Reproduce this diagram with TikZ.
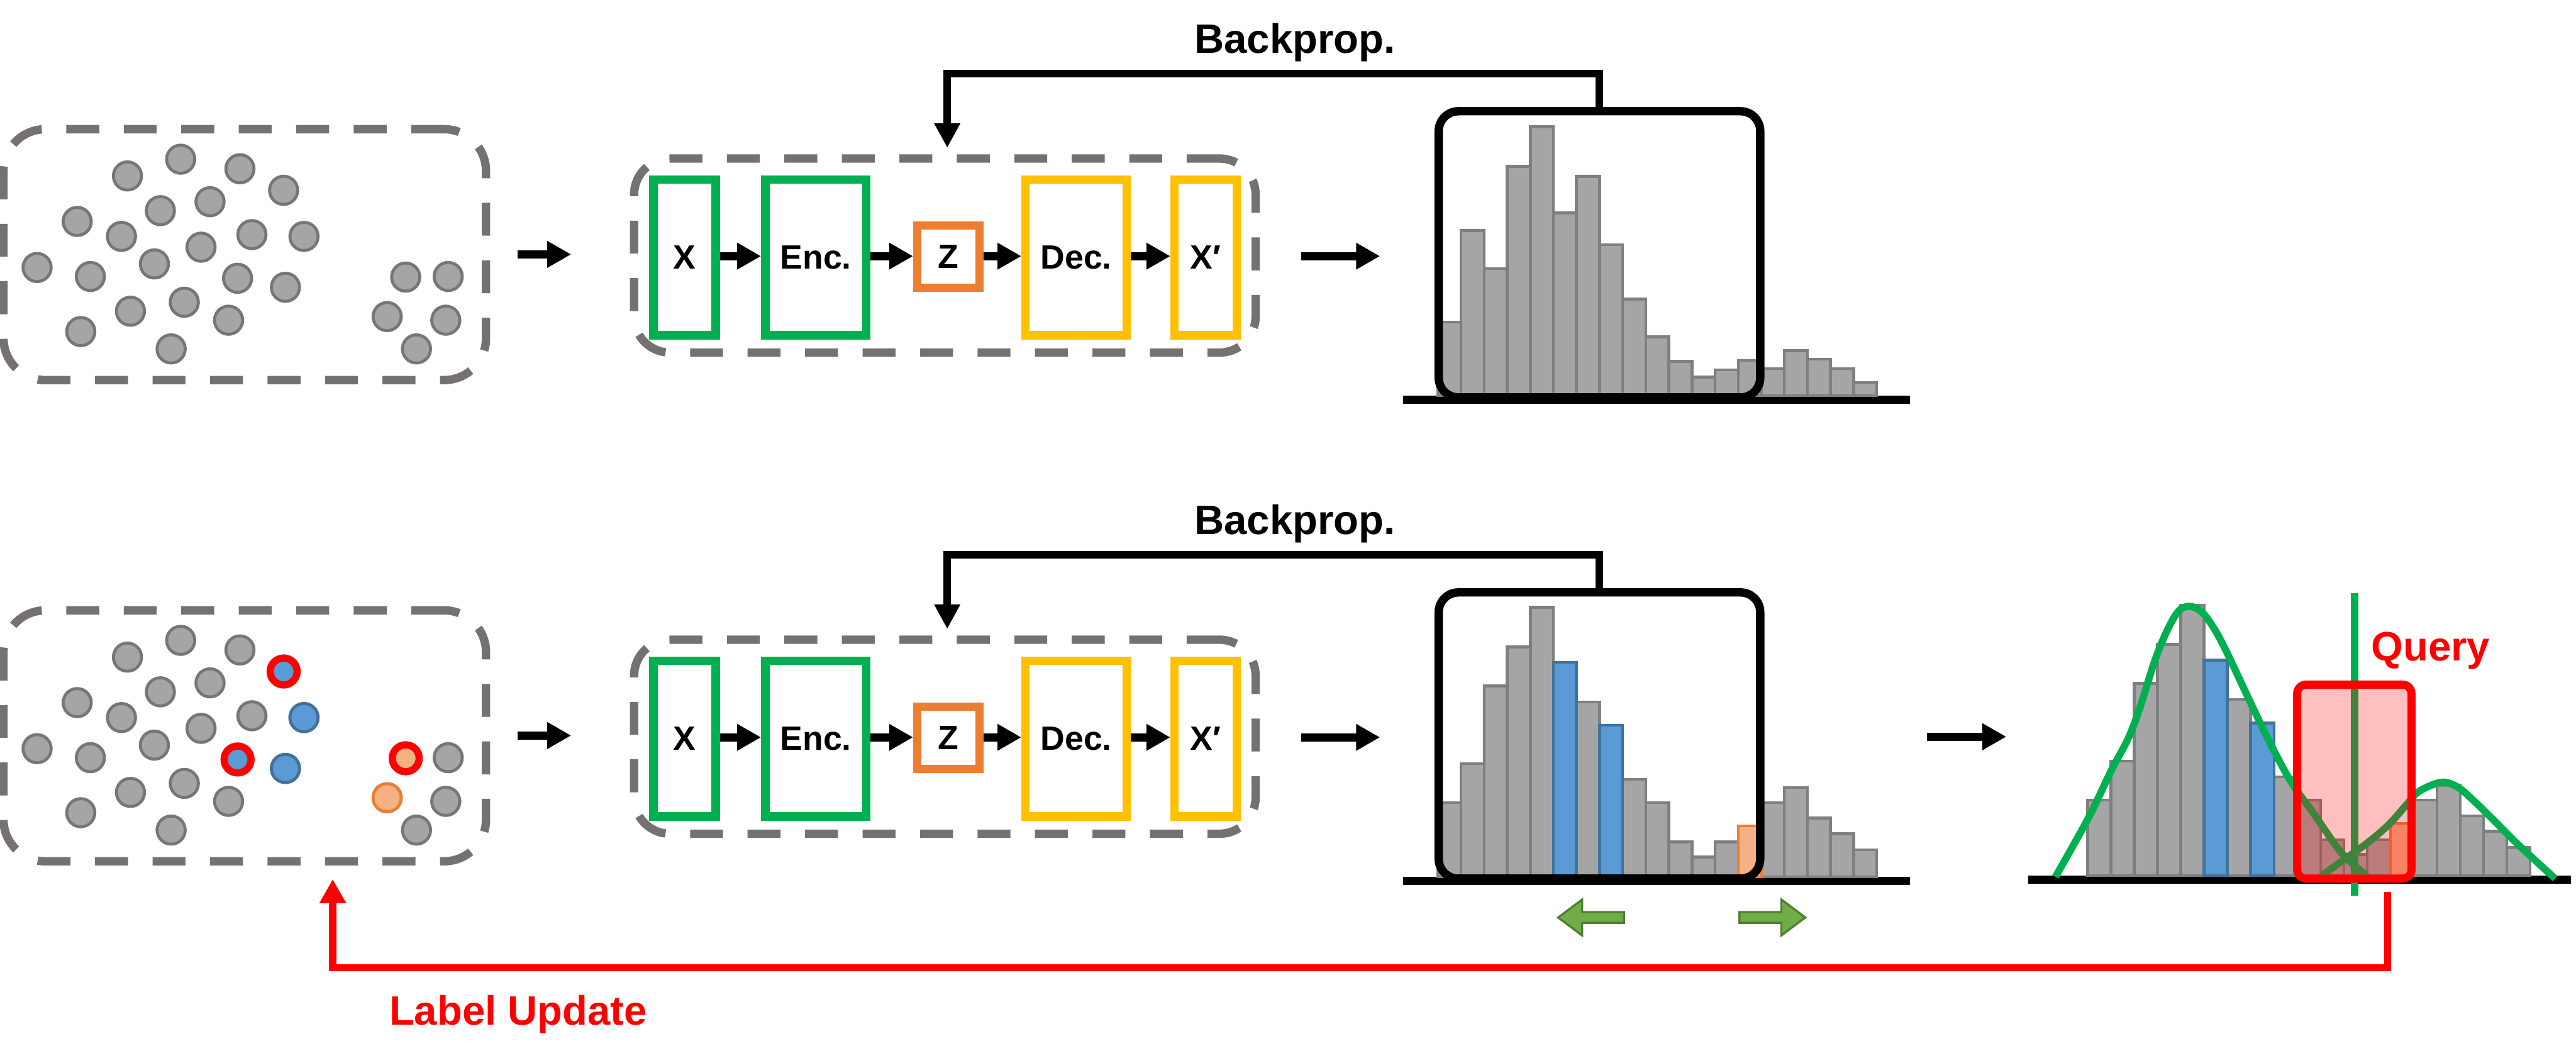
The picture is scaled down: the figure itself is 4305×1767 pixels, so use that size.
\documentclass[tikz,border=0pt]{standalone}
\usepackage{fontspec}
\setmainfont{Liberation Sans}
\usetikzlibrary{arrows.meta}
\definecolor{dashgrey}{HTML}{767171}
\definecolor{dotfill}{HTML}{A5A5A5}
\definecolor{dotline}{HTML}{767676}
\definecolor{barline}{HTML}{7F7F7F}
\definecolor{aegreen}{HTML}{00B050}
\definecolor{aeorange}{HTML}{ED7D31}
\definecolor{aeyellow}{HTML}{FFC000}
\definecolor{bluefill}{HTML}{5B9BD5}
\definecolor{blueline}{HTML}{41719C}
\definecolor{orfill}{HTML}{F4B183}
\definecolor{garrowfill}{HTML}{70AD47}
\definecolor{garrowline}{HTML}{507E32}
\newcommand{\bigtxt}{\fontsize{19.5}{23}\selectfont\bfseries}
\newcommand{\aetxt}{\fontsize{16}{19}\selectfont\bfseries}
\tikzset{
  dashbox/.style={draw=dashgrey, line width=0.14cm, dash pattern=on 0.55cm off 0.41cm,
    inner sep=0pt, outer sep=0.07cm},
  aebox/.style={draw, line width=0.14cm, inner sep=0pt, outer sep=0.07cm,
    minimum height=2.60cm, font=\aetxt},
  histbox/.style={draw=black, line width=0.14cm, rounded corners=0.33cm, inner sep=0pt,
    outer sep=0.07cm, minimum width=5.37cm, minimum height=4.78cm},
  bigarrow/.style={line width=0.14cm, -{Triangle[length=0.40cm,width=0.42cm]}},
  bparrow/.style={line width=0.13cm, -{Triangle[length=0.41cm,width=0.41cm]}},
  redarrow/.style={draw=red, line width=0.12cm, -{Triangle[length=0.40cm,width=0.42cm]}},
  bargrey/.style={fill=dotfill, draw=barline, line width=0.047cm},
  barblue/.style={fill=bluefill, draw=blueline, line width=0.047cm},
  barorange/.style={fill=orfill, draw=aeorange, line width=0.047cm},
  dotgrey/.style={fill=dotfill, draw=dotline, line width=0.05cm},
  dotblue/.style={fill=bluefill, draw=blueline, line width=0.05cm},
  dotorange/.style={fill=orfill, draw=aeorange, line width=0.05cm},
  dotring/.style={draw=red, line width=0.12cm},
  garrow/.style={fill=garrowfill, draw=garrowline, line width=0.035cm},
  axisline/.style={line width=0.14cm, black},
}
\def\dotlist{213/294,302/266,401/282,474/318,268/352,351/337,129/370,203/395,336/413,421/392,508/395,62/447,151/462,258/441,397/465,477/480,218/520,308/505,382/535,135/554,286/583,678/463,749/462,647/529,745/535,696/583}
\begin{document}
\begin{tikzpicture}[x=0.01cm,y=-0.01cm]
\useasboundingbox (0,0) rectangle (4305,1767);

% ================= TOP ROW =================
\node[dashbox, rounded corners=0.7cm, minimum width=8.06cm, minimum height=4.19cm] (box1) at (409,425.5) {};
\foreach \x/\y in \dotlist {\draw[dotgrey] (\x,\y) circle[radius=0.235cm];}

\node[dashbox, rounded corners=0.6cm, minimum width=10.38cm, minimum height=3.24cm] (ae1) at (1579,427) {};
\node[aebox, draw=aegreen, minimum width=1.04cm] (x1) at (1144,430) {X};
\node[aebox, draw=aegreen, minimum width=1.69cm] (enc1) at (1363.5,430) {Enc.};
\node[aebox, draw=aeorange, minimum width=1.04cm, minimum height=1.04cm] (z1) at (1585,429) {Z};
\node[aebox, draw=aeyellow, minimum width=1.69cm] (dec1) at (1798.5,430) {Dec.};
\node[aebox, draw=aeyellow, minimum width=1.04cm] (xp1) at (2015,430) {X\char"2032};
\draw[bigarrow] (x1.east |- 0,428) -- (enc1.west |- 0,428);
\draw[bigarrow] (enc1.east |- 0,428) -- (z1.west |- 0,428);
\draw[bigarrow] (z1.east |- 0,428) -- (dec1.west |- 0,428);
\draw[bigarrow] (dec1.east |- 0,428) -- (xp1.west |- 0,428);

\draw[bigarrow] ([xshift=0.46cm]box1.east |- 0,425) -- ([xshift=-0.98cm]ae1.west |- 0,425);

% histogram 1
\draw[axisline] (2345,668) -- (3192,668);
\foreach \h [count=\i from 0] in {538,385,449,278,212,356,295,409,500,563,604,630,618,602,616,586,600,616,639}
  {\draw[bargrey] ({2403+\i*38.6},661) rectangle ({2403+(\i+1)*38.6},\h);}
\node[histbox] (hist1) at (2673,425) {};
\draw[bigarrow] ([xshift=0.69cm]ae1.east |- 0,428) -- ([xshift=-0.91cm]hist1.west |- 0,428);

\draw[bparrow] (hist1.north) -- ++(0,-56) -| ([xshift=0.04cm,yshift=0.11cm]ae1.north);
\node[font=\bigtxt, anchor=base, inner sep=0pt] (bp1) at (2164,89) {Backprop.};

% ================= BOTTOM ROW =================
\node[dashbox, rounded corners=0.7cm, minimum width=8.06cm, minimum height=4.19cm] (box2) at (409,1229.5) {};
\foreach \x/\y in \dotlist {\draw[dotgrey] (\x,{\y+804}) circle[radius=0.235cm];}
\draw[dotring, fill=bluefill] (474,1122) circle[radius=0.225cm];
\draw[dotring, fill=bluefill] (397,1269) circle[radius=0.225cm];
\draw[dotblue] (508,1199) circle[radius=0.235cm];
\draw[dotblue] (477,1284) circle[radius=0.235cm];
\draw[dotring, fill=orfill] (678,1267) circle[radius=0.225cm];
\draw[dotorange] (647,1333) circle[radius=0.235cm];

\node[dashbox, rounded corners=0.6cm, minimum width=10.38cm, minimum height=3.24cm] (ae2) at (1579,1231) {};
\node[aebox, draw=aegreen, minimum width=1.04cm] (x2) at (1144,1234) {X};
\node[aebox, draw=aegreen, minimum width=1.69cm] (enc2) at (1363.5,1234) {Enc.};
\node[aebox, draw=aeorange, minimum width=1.04cm, minimum height=1.04cm] (z2) at (1585,1233) {Z};
\node[aebox, draw=aeyellow, minimum width=1.69cm] (dec2) at (1798.5,1234) {Dec.};
\node[aebox, draw=aeyellow, minimum width=1.04cm] (xp2) at (2015,1234) {X\char"2032};
\draw[bigarrow] (x2.east |- 0,1232) -- (enc2.west |- 0,1232);
\draw[bigarrow] (enc2.east |- 0,1232) -- (z2.west |- 0,1232);
\draw[bigarrow] (z2.east |- 0,1232) -- (dec2.west |- 0,1232);
\draw[bigarrow] (dec2.east |- 0,1232) -- (xp2.west |- 0,1232);

\draw[bigarrow] ([xshift=0.46cm]box2.east |- 0,1229) -- ([xshift=-0.98cm]ae2.west |- 0,1229);

% histogram 2
\draw[axisline] (2345,1472) -- (3192,1472);
\foreach \h [count=\i from 0] in {1341,1276,1146,1081,1015,1107,1173,1212,1302,1341,1407,1432,1407,1380,1341,1316,1367,1393,1420}
  {\draw[bargrey] ({2403+\i*38.6},1465) rectangle ({2403+(\i+1)*38.6},\h);}
\draw[barblue] ({2403+5*38.6},1465) rectangle ({2403+6*38.6},1107);
\draw[barblue] ({2403+7*38.6},1465) rectangle ({2403+8*38.6},1212);
\draw[barorange] ({2403+13*38.6},1465) rectangle ({2403+14*38.6},1380);
\node[histbox] (hist2) at (2673,1229) {};
\draw[bigarrow] ([xshift=0.69cm]ae2.east |- 0,1232) -- ([xshift=-0.91cm]hist2.west |- 0,1232);

\draw[bparrow] (hist2.north) -- ++(0,-56) -| ([xshift=0.04cm,yshift=0.11cm]ae2.north);
\node[font=\bigtxt, anchor=base, inner sep=0pt] (bp2) at (2164,893) {Backprop.};

% green shift arrows
\draw[garrow] (2604,1533) -- (2644,1503) -- (2644,1524) -- (2714,1524) -- (2714,1542) -- (2644,1542) -- (2644,1563) -- cycle;
\draw[garrow] (3017,1533) -- (2977,1503) -- (2977,1524) -- (2907,1524) -- (2907,1542) -- (2977,1542) -- (2977,1563) -- cycle;

% histogram 3
\coordinate (h3in) at (3353,1231);
\draw[bigarrow] ([xshift=2.72cm]hist2.east |- 0,1231) -- (h3in);
\draw[axisline] (3389,1470) -- (4297,1470);
\foreach \h [count=\i from 0] in {1337,1272,1142,1077,1011,1103,1169,1208,1298,1337,1403,1428,1403,1376,1337,1312,1363,1389,1416}
  {\draw[bargrey] ({3489+\i*38.9},1463) rectangle ({3489+(\i+1)*38.9},\h);}
\draw[barblue] ({3489+5*38.9},1463) rectangle ({3489+6*38.9},1103);
\draw[barblue] ({3489+7*38.9},1463) rectangle ({3489+8*38.9},1208);
\draw[barorange] ({3489+13*38.9},1463) rectangle ({3489+14*38.9},1376);
\draw[aegreen, line width=0.12cm] plot[smooth, tension=0.55] coordinates {(3435,1465) (3490,1367) (3528,1288) (3557,1233) (3577,1180) (3600,1107) (3620,1057) (3640,1022) (3659,1013) (3680,1023) (3700,1050) (3720,1087) (3753,1157) (3783,1220) (3810,1273) (3833,1313) (3867,1360) (3913,1425) (3955,1463)};
\draw[aegreen, line width=0.12cm] plot[smooth, tension=0.55] coordinates {(3880,1463) (3922,1433) (3957,1408) (3993,1377) (4023,1343) (4043,1322) (4080,1307) (4107,1315) (4133,1337) (4167,1370) (4207,1410) (4270,1468)};
\draw[aegreen, line width=0.13cm] (3935,991) -- (3935,1497);
\node[draw=red, line width=0.135cm, fill=red, fill opacity=0.25, draw opacity=1, rounded corners=0.15cm,
  inner sep=0pt, outer sep=0.067cm, minimum width=1.91cm, minimum height=3.24cm] (query) at (3934.5,1306) {};
\node[font=\bigtxt, text=red, anchor=base, inner sep=0pt] (qlabel) at (4062,1104) {Query};

% label update
\coordinate (lutip) at ([xshift=1.47cm,yshift=-0.23cm]box2.south);
\draw[redarrow] ([xshift=0.555cm,yshift=-0.16cm]query.south) -- ++(0,126) -| (lutip);
\node[font=\bigtxt, text=red, anchor=base, inner sep=0pt] (lu) at (866,1713) {Label Update};
\end{tikzpicture}
\end{document}
